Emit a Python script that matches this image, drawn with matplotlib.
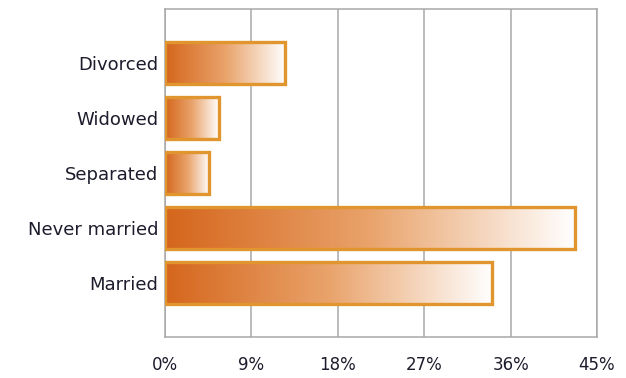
import matplotlib
matplotlib.use("Agg")
import matplotlib.pyplot as plt
import numpy as np
from matplotlib.colors import LinearSegmentedColormap
from matplotlib.patches import Rectangle

categories = ["Married", "Never married", "Separated", "Widowed", "Divorced"]
values = [34.1, 42.7, 4.6, 5.6, 12.5]
ticks = [0, 9, 18, 27, 36, 45]

fade = LinearSegmentedColormap.from_list("fade", ["#d5661c", "#e9a36b", "#ffffff"])
grad = np.linspace(0, 1, 256).reshape(1, -1)

fig = plt.figure(figsize=(6.26, 3.78), dpi=100)
ax = fig.add_axes([0.2636, 0.1085, 0.6901, 0.8677])

bar_h = 0.77
for i, v in enumerate(values):
    y0 = i - bar_h / 2
    ax.imshow(grad, cmap=fade, extent=(0, v, y0, y0 + bar_h),
              aspect="auto", interpolation="bicubic", zorder=2)
    ax.add_patch(Rectangle((0, y0), v, bar_h, fill=False,
                           edgecolor="#e0952f", linewidth=2.4, zorder=3))

ax.set_xlim(0, 45)
ax.set_ylim(-0.99, 4.99)
ax.set_xticks(ticks)
ax.set_xticklabels([f"{t}%" for t in ticks])
ax.set_yticks(range(len(categories)))
ax.set_yticklabels(categories)
ax.tick_params(length=0, labelcolor="#1c1c2c")
ax.tick_params(axis="x", pad=14, labelsize=12)
ax.tick_params(axis="y", pad=5, labelsize=13)
ax.grid(axis="x", color="#a8a8a8", linewidth=1.1, zorder=0)
ax.set_axisbelow(True)
for s in ax.spines.values():
    s.set_color("#a8a8a8")
    s.set_linewidth(1.1)

fig.savefig("out.png", dpi=100)
